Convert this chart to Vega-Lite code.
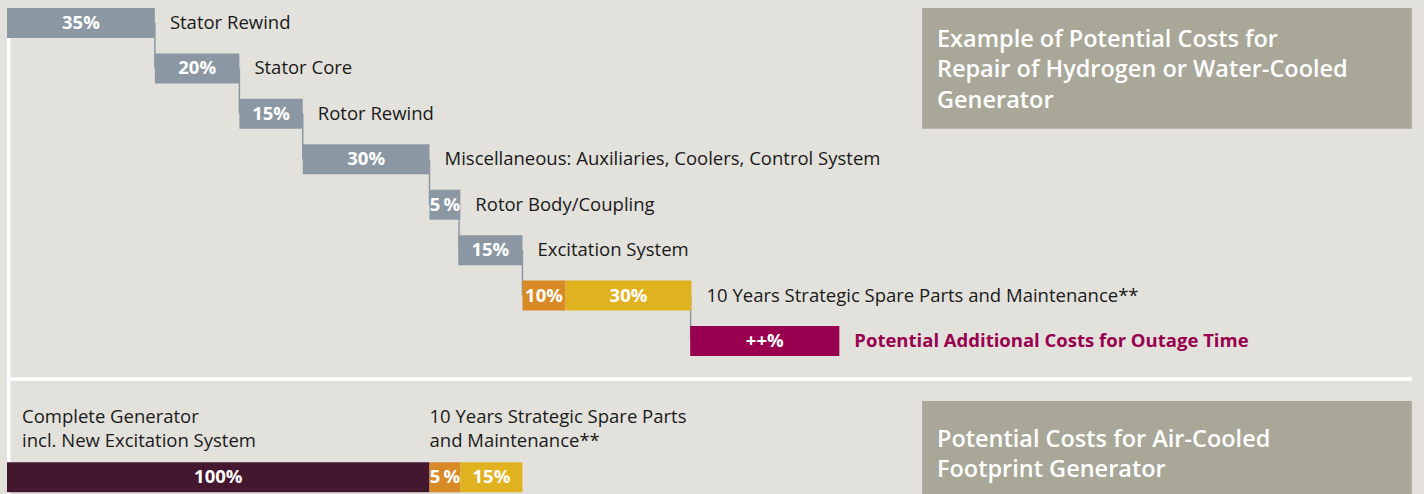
{
  "$schema": "https://vega.github.io/schema/vega-lite/v6.json",
  "width": 1424,
  "height": 494,
  "autosize": {"type": "none"},
  "padding": 0,
  "background": "#e2e1db",
  "config": {"view": {"stroke": null}, "font": "Open Sans", "scale": {"continuousPadding": 0}},
  "datasets": {
    "bars": [
      {"row": 1, "start": 0, "end": 35, "pct": "35%", "kind": "repair"},
      {"row": 2, "start": 35, "end": 55, "pct": "20%", "kind": "repair"},
      {"row": 3, "start": 55, "end": 70, "pct": "15%", "kind": "repair"},
      {"row": 4, "start": 70, "end": 100, "pct": "30%", "kind": "repair"},
      {"row": 5, "start": 100, "end": 107.3, "pct": "5\u2009%", "kind": "repair"},
      {"row": 6, "start": 106.8, "end": 122, "pct": "15%", "kind": "repair"},
      {"row": 7, "start": 122, "end": 132.2, "pct": "10%", "kind": "spare_a"},
      {"row": 7, "start": 132.2, "end": 162, "pct": "30%", "kind": "spare_b"},
      {"row": 8, "start": 161.7, "end": 197, "pct": "++%", "kind": "outage"},
      {"row": 11, "start": 0, "end": 100, "pct": "100%", "kind": "new"},
      {"row": 11, "start": 100, "end": 107.3, "pct": "5\u2009%", "kind": "spare_a"},
      {"row": 11, "start": 107.3, "end": 122, "pct": "15%", "kind": "spare_b"}
    ],
    "connectors": [
      {"at": 35, "from": 1, "to": 2},
      {"at": 55, "from": 2, "to": 3},
      {"at": 70, "from": 3, "to": 4},
      {"at": 100, "from": 4, "to": 5},
      {"at": 107, "from": 5, "to": 6},
      {"at": 122, "from": 6, "to": 7},
      {"at": 161.8, "from": 7, "to": 8}
    ],
    "cats": [
      {"row": 1, "at": 35, "name": "Stator Rewind", "kind": "normal"},
      {"row": 2, "at": 55, "name": "Stator Core", "kind": "normal"},
      {"row": 3, "at": 70, "name": "Rotor Rewind", "kind": "normal"},
      {"row": 4, "at": 100, "name": "Miscellaneous: Auxiliaries, Coolers, Control System", "kind": "normal"},
      {"row": 5, "at": 107.3, "name": "Rotor Body/Coupling", "kind": "normal"},
      {"row": 6, "at": 122, "name": "Excitation System", "kind": "normal"},
      {"row": 7, "at": 162, "name": "10 Years Strategic Spare Parts and Maintenance**", "kind": "normal"},
      {"row": 8, "at": 197, "name": "Potential Additional Costs for Outage Time", "kind": "outage"}
    ],
    "bottomcats": [
      {"row": 9.666, "at": 3.55, "name": "Complete Generator\nincl. New Excitation System"},
      {"row": 9.666, "at": 100, "name": "10 Years Strategic Spare Parts\nand Maintenance**"}
    ],
    "boxes": [
      {"x": 216.6, "x2": 332.5, "y": 0.67, "y2": 3.327, "tx": 220.1, "ty": 1.374, "title": "Example of Potential Costs for\nRepair of Hydrogen or Water-Cooled\nGenerator"},
      {"x": 216.6, "x2": 332.5, "y": 9.32, "y2": 11.368, "tx": 220.1, "ty": 10.179, "title": "Potential Costs for Air-Cooled\nFootprint Generator"}
    ],
    "dividers": [
      {"x": 0, "x2": 332.5, "y": 8.836, "y2": 8.836},
      {"x": 0.4, "x2": 0.4, "y": 1.33, "y2": 11.368}
    ]
  },
  "layer": [
    {
      "data": {"name": "boxes"},
      "mark": {"type": "rect", "color": "#a8a798"},
      "encoding": {
        "x": {"field": "x", "type": "quantitative", "scale": {"domain": [-1.657, 335.38], "nice": false, "zero": false, "padding": 0}, "axis": null},
        "x2": {"field": "x2"},
        "y": {"field": "y", "type": "quantitative", "scale": {"domain": [0.4937, 11.368], "nice": false, "zero": false, "reverse": true, "padding": 0}, "axis": null},
        "y2": {"field": "y2"}
      }
    },
    {
      "data": {"name": "boxes"},
      "mark": {"type": "text", "color": "#ffffff", "fontSize": 23.5, "fontWeight": 600, "align": "left", "baseline": "middle", "lineBreak": "\n", "lineHeight": 30.5},
      "encoding": {
        "x": {"field": "tx", "type": "quantitative", "scale": {"domain": [-1.657, 335.38], "nice": false, "zero": false, "padding": 0}, "axis": null},
        "y": {"field": "ty", "type": "quantitative", "scale": {"domain": [0.4937, 11.368], "nice": false, "zero": false, "reverse": true, "padding": 0}, "axis": null},
        "text": {"field": "title"}
      }
    },
    {
      "data": {"name": "dividers"},
      "mark": {"type": "rule", "color": "#ffffff", "strokeWidth": 3.5},
      "encoding": {
        "x": {"field": "x", "type": "quantitative", "scale": {"domain": [-1.657, 335.38], "nice": false, "zero": false, "padding": 0}, "axis": null},
        "x2": {"field": "x2"},
        "y": {"field": "y", "type": "quantitative", "scale": {"domain": [0.4937, 11.368], "nice": false, "zero": false, "reverse": true, "padding": 0}, "axis": null},
        "y2": {"field": "y2"}
      }
    },
    {
      "data": {"name": "connectors"},
      "mark": {"type": "rule", "color": "#8b98a3", "strokeWidth": 1.5},
      "encoding": {
        "x": {"field": "at", "type": "quantitative", "scale": {"domain": [-1.657, 335.38], "nice": false, "zero": false, "padding": 0}, "axis": null},
        "y": {"field": "from", "type": "quantitative", "scale": {"domain": [0.4937, 11.368], "nice": false, "zero": false, "reverse": true, "padding": 0}, "axis": null},
        "y2": {"field": "to"}
      }
    },
    {
      "data": {"name": "bars"},
      "mark": {"type": "bar", "orient": "horizontal", "height": 30},
      "encoding": {
        "x": {"field": "start", "type": "quantitative", "scale": {"domain": [-1.657, 335.38], "nice": false, "zero": false, "padding": 0}, "axis": null},
        "x2": {"field": "end"},
        "y": {"field": "row", "type": "quantitative", "scale": {"domain": [0.4937, 11.368], "nice": false, "zero": false, "reverse": true, "padding": 0}, "axis": null},
        "color": {"field": "kind", "type": "nominal", "scale": {"domain": ["repair", "spare_a", "spare_b", "outage", "new"], "range": ["#8b98a3", "#d98a26", "#e1b220", "#990050", "#45172e"]}, "legend": null}
      }
    },
    {
      "data": {"name": "bars"},
      "transform": [{"fold": ["start", "end"], "as": ["edge", "v"]}],
      "mark": {"type": "text", "color": "#ffffff", "fontSize": 18.5, "fontWeight": "bold", "align": "center", "baseline": "middle"},
      "encoding": {
        "x": {"aggregate": "mean", "field": "v", "type": "quantitative", "scale": {"domain": [-1.657, 335.38], "nice": false, "zero": false, "padding": 0}, "axis": null},
        "y": {"field": "row", "type": "quantitative", "scale": {"domain": [0.4937, 11.368], "nice": false, "zero": false, "reverse": true, "padding": 0}, "axis": null},
        "text": {"field": "pct", "type": "nominal"}
      }
    },
    {
      "data": {"name": "cats"},
      "transform": [{"filter": "datum.kind === 'normal'"}],
      "mark": {"type": "text", "color": "#1a1a1a", "fontSize": 18.5, "align": "left", "baseline": "middle", "dx": 15},
      "encoding": {
        "x": {"field": "at", "type": "quantitative", "scale": {"domain": [-1.657, 335.38], "nice": false, "zero": false, "padding": 0}, "axis": null},
        "y": {"field": "row", "type": "quantitative", "scale": {"domain": [0.4937, 11.368], "nice": false, "zero": false, "reverse": true, "padding": 0}, "axis": null},
        "text": {"field": "name", "type": "nominal"}
      }
    },
    {
      "data": {"name": "cats"},
      "transform": [{"filter": "datum.kind === 'outage'"}],
      "mark": {"type": "text", "color": "#990050", "fontSize": 18.5, "fontWeight": "bold", "align": "left", "baseline": "middle", "dx": 15},
      "encoding": {
        "x": {"field": "at", "type": "quantitative", "scale": {"domain": [-1.657, 335.38], "nice": false, "zero": false, "padding": 0}, "axis": null},
        "y": {"field": "row", "type": "quantitative", "scale": {"domain": [0.4937, 11.368], "nice": false, "zero": false, "reverse": true, "padding": 0}, "axis": null},
        "text": {"field": "name", "type": "nominal"}
      }
    },
    {
      "data": {"name": "bottomcats"},
      "mark": {"type": "text", "color": "#1a1a1a", "fontSize": 18.5, "align": "left", "baseline": "middle", "lineBreak": "\n", "lineHeight": 24.3},
      "encoding": {
        "x": {"field": "at", "type": "quantitative", "scale": {"domain": [-1.657, 335.38], "nice": false, "zero": false, "padding": 0}, "axis": null},
        "y": {"field": "row", "type": "quantitative", "scale": {"domain": [0.4937, 11.368], "nice": false, "zero": false, "reverse": true, "padding": 0}, "axis": null},
        "text": {"field": "name", "type": "nominal"}
      }
    }
  ]
}
